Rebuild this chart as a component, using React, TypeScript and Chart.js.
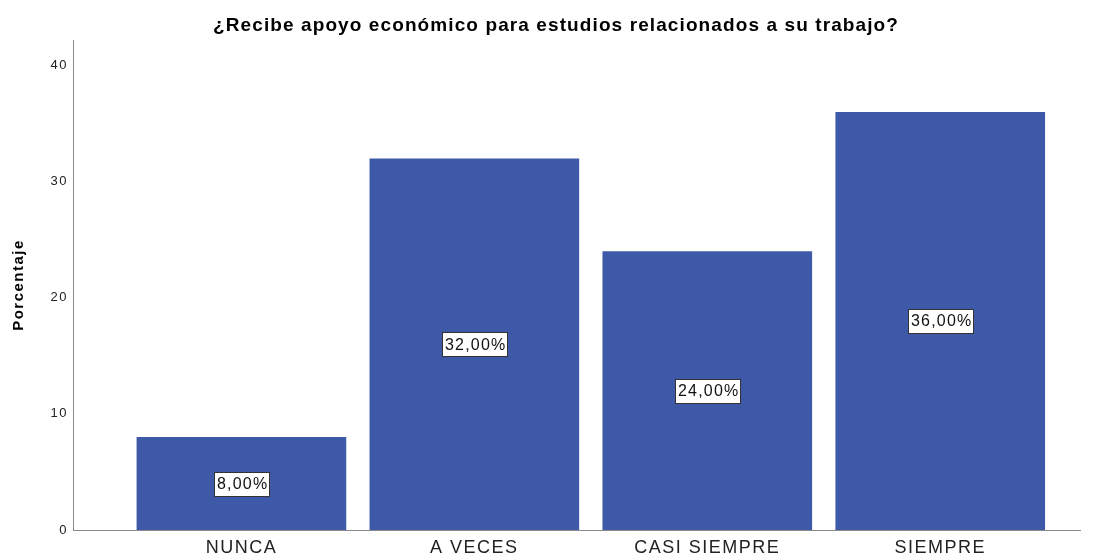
import React, { useEffect, useRef } from "react";
import { Chart, registerables } from "chart.js";

Chart.register(...registerables);

const TITLE = "¿Recibe apoyo económico para estudios relacionados a su trabajo?";
const Y_TITLE = "Porcentaje";
const CATEGORIES = ["NUNCA", "A VECES", "CASI SIEMPRE", "SIEMPRE"];
const VALUES = [8, 32, 24, 36];
const Y_TICKS = [0, 10, 20, 30, 40];
const BAR_COLOR = "#3E59A8";
const FONT = "'Liberation Sans', Arial, sans-serif";

const spacingPlugin = {
  id: "spacing",
  beforeInit(chart: any) {
    chart.ctx.letterSpacing = "1.5px";
  },
  beforeLayout(chart: any) {
    chart.ctx.letterSpacing = "1.5px";
  },
  beforeDraw(chart: any) {
    chart.ctx.letterSpacing = "1.5px";
  },
};

const titlePlugin = {
  id: "customTitle",
  afterDraw(chart: any) {
    const ctx = chart.ctx;
    ctx.save();
    ctx.letterSpacing = "1.1px";
    ctx.font = `bold 19px ${FONT}`;
    ctx.fillStyle = "#000";
    ctx.textAlign = "center";
    ctx.textBaseline = "alphabetic";
    ctx.fillText(TITLE, 556, 31);
    ctx.restore();
  },
};

const labelPlugin = {
  id: "boxLabels",
  afterDatasetsDraw(chart: any) {
    const ctx = chart.ctx;
    const meta = chart.getDatasetMeta(0);
    const yScale = chart.scales.y;
    ctx.save();
    ctx.letterSpacing = "1.2px";
    ctx.font = `16px ${FONT}`;
    ctx.textAlign = "left";
    ctx.textBaseline = "middle";
    meta.data.forEach((bar: any, i: number) => {
      const v = VALUES[i];
      const text = v.toFixed(2).replace(".", ",") + "%";
      const x = bar.x;
      const y = yScale.getPixelForValue(v / 2);
      const tw = ctx.measureText(text).width - 1.2;
      const w = Math.round(tw + 5);
      const h = 24;
      const bx = Math.round(x - w / 2) + 0.5;
      const by = Math.round(y - h / 2) + 0.5;
      ctx.fillStyle = "#ffffff";
      ctx.fillRect(bx, by, w, h);
      ctx.strokeStyle = "#333333";
      ctx.lineWidth = 1;
      ctx.strokeRect(bx, by, w, h);
      ctx.fillStyle = "#111111";
      ctx.fillText(text, bx + 2.5, y + 1);
    });
    ctx.restore();
  },
};

export default function App() {
  const ref = useRef<HTMLCanvasElement>(null);
  useEffect(() => {
    const chart = new Chart(ref.current!, {
      type: "bar",
      data: {
        datasets: [
          {
            data: VALUES.map((v, i) => ({ x: i, y: v })),
            backgroundColor: BAR_COLOR,
            borderWidth: 0,
            barPercentage: 0.9,
            categoryPercentage: 1,
          },
        ],
      },
      options: {
        animation: false,
        responsive: false,
        maintainAspectRatio: false,
        layout: { padding: { left: 0, right: 20, top: 40, bottom: 0 } },
        plugins: {
          legend: { display: false },
          tooltip: { enabled: false },
          title: { display: false },
        },
        scales: {
          x: {
            type: "linear",
            offset: false,
            min: -0.723,
            max: 3.6,
            grid: { display: false, drawTicks: false },
            border: { display: true, color: "#8a8a8a", width: 1 },
            afterBuildTicks: (scale: any) => {
              scale.ticks = CATEGORIES.map((_, i) => ({ value: i }));
            },
            afterFit: (scale: any) => {
              scale.height = 28;
            },
            ticks: {
              autoSkip: false,
              maxRotation: 0,
              padding: 7,
              color: "#222",
              font: { family: FONT, size: 18 },
              callback: (v: any) => CATEGORIES[Math.round(Number(v))] ?? "",
            },
          },
          y: {
            min: 0,
            max: 42.2,
            grid: { display: false, drawTicks: false },
            border: { display: true, color: "#8a8a8a", width: 1 },
            afterBuildTicks: (scale: any) => {
              scale.ticks = Y_TICKS.map((v) => ({ value: v }));
            },
            afterFit: (scale: any) => {
              scale.width = 73;
            },
            ticks: {
              padding: 5,
              color: "#222",
              font: { family: FONT, size: 13 },
            },
            title: {
              display: true,
              text: Y_TITLE,
              color: "#000",
              font: { family: FONT, size: 15, weight: "bold", lineHeight: 1.2 },
              padding: { top: 10, bottom: 0 },
            },
          },
        },
      },
      plugins: [spacingPlugin, labelPlugin, titlePlugin],
    } as any);
    return () => chart.destroy();
  }, []);
  return (
    <div style={{ position: "fixed", left: 0, top: 0, width: 1100, height: 558, background: "#fff" }}>
      <canvas ref={ref} width={1100} height={558} style={{ width: 1100, height: 558 }} />
    </div>
  );
}
